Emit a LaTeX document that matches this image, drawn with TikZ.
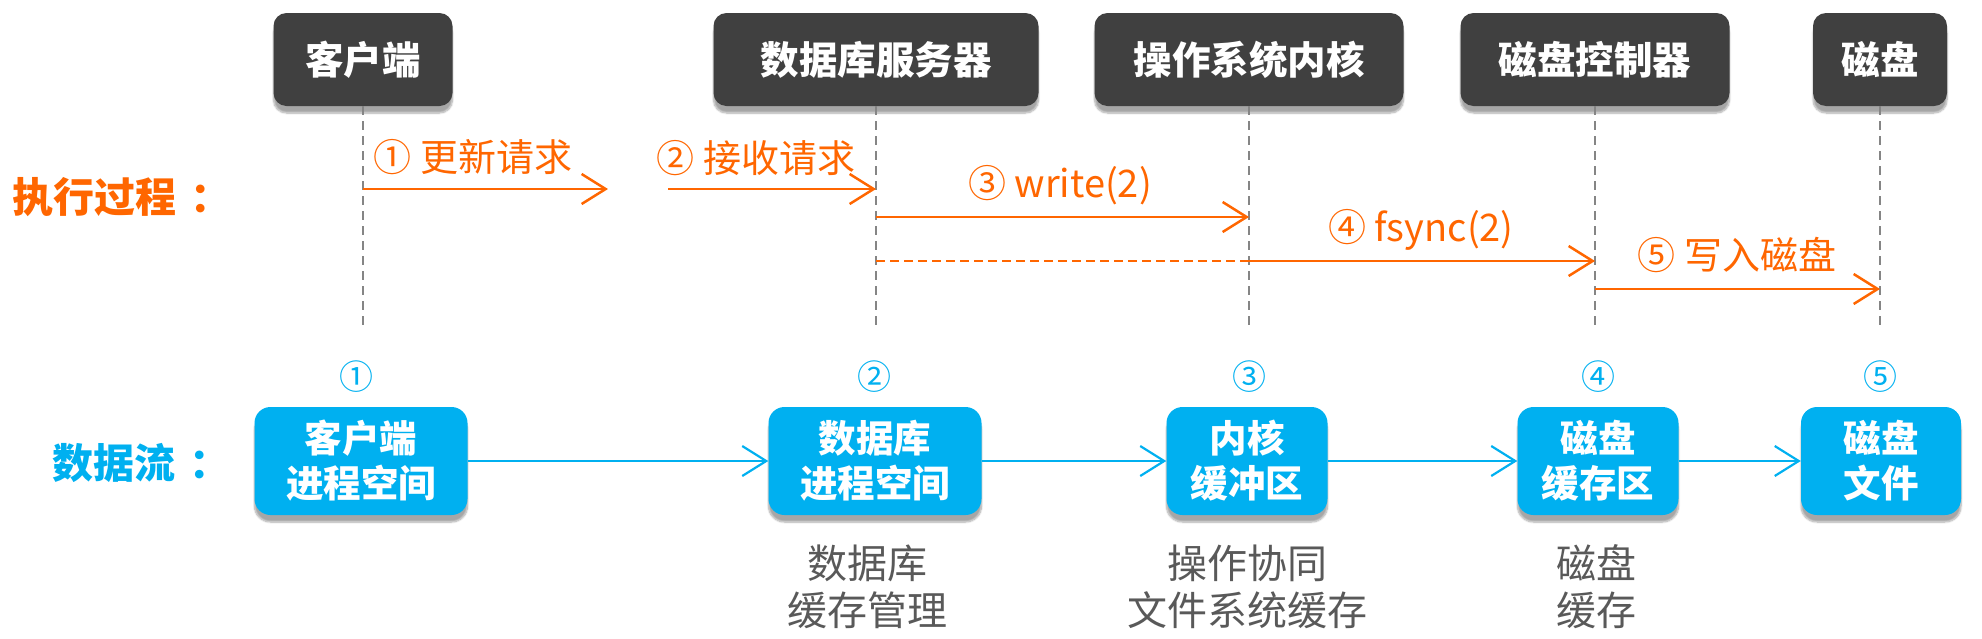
\documentclass[tikz,border=0pt]{standalone}
\usepackage{fontspec}
\newfontfamily\cjk{Noto Sans CJK SC}
\usetikzlibrary{arrows.meta,shadows.blur}
\definecolor{hdrgray}{HTML}{404040}
\definecolor{orng}{HTML}{FF6600}
\definecolor{skyb}{HTML}{00B0F0}
\definecolor{capg}{HTML}{595959}
\definecolor{lifeg}{HTML}{858585}
\begin{document}
\begin{tikzpicture}[x=1pt,y=-1pt,
 hdr/.style={fill=hdrgray, rounded corners=13pt, text=white, font=\cjk\bfseries\fontsize{38.5}{40}\selectfont, minimum height=93pt, inner sep=0pt, blur shadow={shadow xshift=0pt, shadow yshift=-7pt, shadow blur steps=8, shadow opacity=35}},
 bbox/.style={fill=skyb, rounded corners=16pt, text=white, align=center, font=\cjk\bfseries\fontsize{37.5}{45}\selectfont, minimum height=108pt, inner sep=0pt, blur shadow={shadow xshift=0pt, shadow yshift=-7pt, shadow blur steps=8, shadow opacity=35}},
 life/.style={draw=lifeg, line width=1.5pt, dash pattern=on 9pt off 6pt},
 oarr/.style={draw=orng, line width=2.5pt, -{Straight Barb[length=24pt,width=30pt]}},
 odash/.style={draw=orng, line width=2.5pt, dash pattern=on 9pt off 5pt},
 barr/.style={draw=skyb, line width=2.2pt, -{Straight Barb[length=24pt,width=30pt]}},
 olab/.style={text=orng, font=\cjk\fontsize{38}{40}\selectfont, inner sep=0pt},
 bnum/.style={text=skyb, font=\cjk\fontsize{34}{36}\selectfont, inner sep=0pt},
 captext/.style={text=capg, align=center, font=\cjk\fontsize{40}{47}\selectfont, inner sep=0pt},
 sect/.style={font=\cjk\bfseries\fontsize{41}{42}\selectfont, inner sep=0pt, anchor=west}
]
\useasboundingbox (0,0) rectangle (1982,638);

% headers
\node[hdr, minimum width=179pt] (h1) at (363,59.5) {客户端};
\node[hdr, minimum width=325pt] (h2) at (876,59.5) {数据库服务器};
\node[hdr, minimum width=309pt] (h3) at (1249,59.5) {操作系统内核};
\node[hdr, minimum width=269pt] (h4) at (1595,59.5) {磁盘控制器};
\node[hdr, minimum width=134pt] (h5) at (1880,59.5) {磁盘};

% lifelines
\coordinate (e1) at (363,330);
\coordinate (e2) at (876,330);
\coordinate (e3) at (1249,330);
\coordinate (e4) at (1595,330);
\coordinate (e5) at (1880,330);
\draw[life] (h1.south) -- (e1);
\draw[life] (h2.south) -- (e2);
\draw[life] (h3.south) -- (e3);
\draw[life] (h4.south) -- (e4);
\draw[life] (h5.south) -- (e5);

% execution process
\node[sect, text=orng] (exec) at (12,197) {执行过程\hspace{14pt}：};

\coordinate (a1s) at (363,189); \coordinate (a1e) at (608,189);
\coordinate (a2s) at (668,189); \coordinate (a2e) at (876,189);
\coordinate (a3s) at (876,217); \coordinate (a3e) at (1249,217);
\coordinate (a4s) at (876,261); \coordinate (a4m) at (1249,261); \coordinate (a4e) at (1595,261);
\coordinate (a5s) at (1595,289); \coordinate (a5e) at (1880,289);

\draw[oarr] (a1s) -- (a1e);
\draw[oarr] (a2s) -- (a2e);
\draw[oarr] (a3s) -- (a3e);
\draw[odash] (a4s) -- (a4m);
\draw[oarr] (a4m) -- (a4e);
\draw[oarr] (a5s) -- (a5e);

\node[olab] (t1) at (473,157) {① 更新请求};
\node[olab] (t2) at (756,158) {② 接收请求};
\node[olab] (t3) at (1060,185) {③ write(2)};
\node[olab] (t4) at (1421,230) {④ fsync(2)};
\node[olab] (t5) at (1737,255) {⑤ 写入磁盘};

% data flow
\node[sect, text=skyb] (flow) at (52,463) {数据流\hspace{14pt}：};

\node[bbox, minimum width=213pt] (b1) at (361,461) {客户端\\进程空间};
\node[bbox, minimum width=213pt] (b2) at (875,461) {数据库\\进程空间};
\node[bbox, minimum width=161pt] (b3) at (1247,461) {内核\\缓冲区};
\node[bbox, minimum width=161pt] (b4) at (1598,461) {磁盘\\缓存区};
\node[bbox, minimum width=160pt] (b5) at (1881,461) {磁盘\\文件};

\draw[barr] (b1) -- (b2);
\draw[barr] (b2) -- (b3);
\draw[barr] (b3) -- (b4);
\draw[barr] (b4) -- (b5);

\node[bnum] (n1) at (356,377) {①};
\node[bnum] (n2) at (874,377) {②};
\node[bnum] (n3) at (1249,377) {③};
\node[bnum] (n4) at (1598,377) {④};
\node[bnum] (n5) at (1880,377) {⑤};

\node[captext] (c2) at (867,587) {数据库\\缓存管理};
\node[captext] (c3) at (1247,587) {操作协同\\文件系统缓存};
\node[captext] (c4) at (1596,587) {磁盘\\缓存};
\end{tikzpicture}
\end{document}
